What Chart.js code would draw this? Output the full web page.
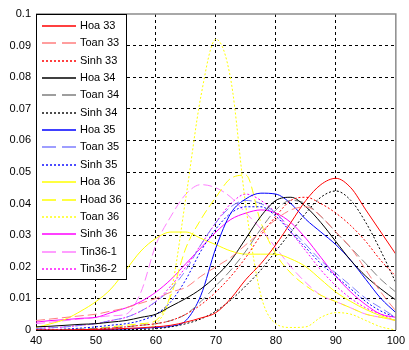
<!DOCTYPE html>
<html>
<head>
<meta charset="utf-8">
<script src="https://cdn.jsdelivr.net/npm/chart.js@4.4.1/dist/chart.umd.min.js"></script>
<style>
  html, body { margin: 0; padding: 0; background: #fff; }
  #chart { display: block; }
</style>
</head>
<body>
<canvas id="chart" width="409" height="350"></canvas>
<script>
// Score values (x) and estimated densities for each series
const X_VALUES = [40, 42.5, 45, 47.5, 50, 52.5, 55, 57.5, 60, 62.5, 65, 67.5, 70, 72.5, 75, 77.5, 80, 82.5, 85, 87.5, 90, 92.5, 95, 97.5, 100];

const HOA_33  = [0, 0, 0, 0.0001, 0.0002, 0.0003, 0.0005, 0.0007, 0.001, 0.0015, 0.0025, 0.0038, 0.0055, 0.01, 0.016, 0.021, 0.027, 0.034, 0.041, 0.046, 0.048, 0.045, 0.038, 0.031, 0.024];
const TOAN_33 = [0.003, 0.0035, 0.004, 0.0045, 0.005, 0.006, 0.007, 0.0085, 0.01, 0.012, 0.0135, 0.017, 0.02, 0.023, 0.027, 0.031, 0.035, 0.038, 0.039, 0.036, 0.031, 0.026, 0.019, 0.012, 0.006];
const SINH_33 = [0, 0, 0, 0, 0.0003, 0.0006, 0.001, 0.0015, 0.002, 0.003, 0.005, 0.008, 0.012, 0.017, 0.023, 0.03, 0.036, 0.041, 0.042, 0.04, 0.037, 0.033, 0.028, 0.022, 0.017];
const HOA_34  = [0.001, 0.0012, 0.0015, 0.0018, 0.002, 0.0025, 0.003, 0.004, 0.005, 0.0075, 0.01, 0.013, 0.017, 0.022, 0.029, 0.036, 0.041, 0.042, 0.039, 0.034, 0.028, 0.022, 0.017, 0.013, 0.0095];
const TOAN_34 = [0, 0.0001, 0.0002, 0.0003, 0.0005, 0.0007, 0.001, 0.0015, 0.002, 0.003, 0.005, 0.009, 0.014, 0.019, 0.025, 0.032, 0.038, 0.041, 0.04, 0.036, 0.031, 0.026, 0.021, 0.016, 0.012];
const SINH_34 = [0, 0, 0, 0, 0, 0, 0.0001, 0.0002, 0.0004, 0.001, 0.002, 0.0035, 0.006, 0.0095, 0.014, 0.019, 0.025, 0.031, 0.037, 0.042, 0.044, 0.041, 0.034, 0.025, 0.015];
const HOA_35  = [0, 0, 0, 0, 0.0001, 0.0002, 0.0003, 0.0005, 0.0008, 0.0012, 0.003, 0.011, 0.026, 0.037, 0.0415, 0.0433, 0.043, 0.04, 0.035, 0.031, 0.027, 0.022, 0.016, 0.01, 0.0055];
const TOAN_35 = [0.0005, 0.0007, 0.001, 0.0015, 0.002, 0.003, 0.004, 0.006, 0.009, 0.013, 0.019, 0.027, 0.034, 0.039, 0.041, 0.04, 0.037, 0.032, 0.027, 0.022, 0.018, 0.014, 0.01, 0.007, 0.004];
const SINH_35 = [0, 0.0001, 0.0003, 0.0006, 0.001, 0.0015, 0.002, 0.003, 0.005, 0.009, 0.016, 0.025, 0.032, 0.037, 0.039, 0.039, 0.036, 0.031, 0.026, 0.021, 0.017, 0.013, 0.009, 0.006, 0.004];
const HOA_36  = [0.0008, 0.002, 0.0035, 0.006, 0.009, 0.013, 0.019, 0.025, 0.029, 0.031, 0.031, 0.029, 0.027, 0.025, 0.024, 0.024, 0.024, 0.0225, 0.02, 0.016, 0.012, 0.009, 0.0065, 0.0045, 0.003];
const HOAD_36 = [0, 0, 0, 0.0002, 0.0005, 0.001, 0.0015, 0.002, 0.003, 0.011, 0.026, 0.035, 0.042, 0.048, 0.049, 0.034, 0.024, 0.018, 0.014, 0.011, 0.009, 0.007, 0.005, 0.004, 0.003];
const TOAN_36 = [0, 0, 0, 0, 0, 0, 0.0002, 0.0005, 0.002, 0.012, 0.042, 0.074, 0.092, 0.079, 0.039, 0.011, 0.002, 0.0008, 0.001, 0.004, 0.0055, 0.005, 0.003, 0.001, 0];
const SINH_36 = [0.0025, 0.003, 0.0033, 0.0037, 0.004, 0.0055, 0.007, 0.009, 0.012, 0.016, 0.021, 0.026, 0.031, 0.035, 0.037, 0.038, 0.037, 0.034, 0.029, 0.023, 0.017, 0.012, 0.008, 0.005, 0.004];
const TIN36_1 = [0.002, 0.0025, 0.003, 0.0035, 0.004, 0.0045, 0.005, 0.012, 0.027, 0.036, 0.043, 0.046, 0.045, 0.042, 0.037, 0.032, 0.026, 0.02, 0.015, 0.011, 0.009, 0.007, 0.005, 0.004, 0.003];
const TIN36_2 = [0.0005, 0.0007, 0.001, 0.0015, 0.002, 0.003, 0.004, 0.006, 0.009, 0.014, 0.02, 0.027, 0.034, 0.04, 0.043, 0.041, 0.037, 0.031, 0.025, 0.019, 0.014, 0.01, 0.007, 0.005, 0.003];

const SERIES_LABELS = ['Hoa 33', 'Toan 33', 'Sinh 33', 'Hoa 34', 'Toan 34', 'Sinh 34', 'Hoa 35', 'Toan 35', 'Sinh 35', 'Hoa 36', 'Hoad 36', 'Toan 36', 'Sinh 36', 'Tin36-1', 'Tin36-2'];
const SERIES_VALUES = [HOA_33, TOAN_33, SINH_33, HOA_34, TOAN_34, SINH_34, HOA_35, TOAN_35, SINH_35, HOA_36, HOAD_36, TOAN_36, SINH_36, TIN36_1, TIN36_2];

// line styles: colour + dash kind
const DASH = {
  solid: [],
  dashed: [9, 4],
  dotted: [2, 2],
};
const LEGEND_DASH = {
  solid: [],
  dashed: [14, 6],
  dotted: [2, 2],
};
const STYLES = [
  { color: '#ff0000', dash: 'solid' },
  { color: '#ff7f7f', dash: 'dashed' },
  { color: '#ff0000', dash: 'dotted' },
  { color: '#000000', dash: 'solid' },
  { color: '#7f7f7f', dash: 'dashed' },
  { color: '#000000', dash: 'dotted' },
  { color: '#0000ff', dash: 'solid' },
  { color: '#7f7fff', dash: 'dashed' },
  { color: '#0000ff', dash: 'dotted' },
  { color: '#ffff00', dash: 'solid' },
  { color: '#ffff00', dash: 'dashed' },
  { color: '#ffff00', dash: 'dotted' },
  { color: '#ff00ff', dash: 'solid' },
  { color: '#ff7fff', dash: 'dashed' },
  { color: '#ff00ff', dash: 'dotted' },
];

const FONT_FAMILY = '"Liberation Sans", Arial, sans-serif';

const datasets = SERIES_VALUES.map((values, i) => ({
  label: SERIES_LABELS[i],
  data: X_VALUES.map((x, j) => ({ x, y: values[j] })),
  borderColor: STYLES[i].color,
  borderDash: DASH[STYLES[i].dash],
  borderWidth: 1,
  pointRadius: 0,
  fill: false,
  cubicInterpolationMode: 'monotone',
}));

// MATLAB-like legend box inside the axes, drawn on top of the lines
const boxLegend = {
  id: 'boxLegend',
  afterDraw(chart) {
    const ctx = chart.ctx;
    const left = 36.5, top = 14.5, right = 126.5, bottom = 279.5;
    ctx.save();
    ctx.fillStyle = '#ffffff';
    ctx.fillRect(left, top, right - left, bottom - top);
    ctx.strokeStyle = '#000000';
    ctx.lineWidth = 1;
    ctx.setLineDash([]);
    ctx.strokeRect(left, top, right - left, bottom - top);
    ctx.font = '11px ' + FONT_FAMILY;
    ctx.textBaseline = 'middle';
    ctx.textAlign = 'left';
    SERIES_LABELS.forEach((label, i) => {
      const y = Math.round(25 + i * 17.35) + 1;
      const style = STYLES[i];
      ctx.strokeStyle = style.color;
      ctx.lineWidth = 1.4;
      ctx.setLineDash(LEGEND_DASH[style.dash]);
      ctx.beginPath();
      ctx.moveTo(42, y);
      ctx.lineTo(76, y);
      ctx.stroke();
      ctx.fillStyle = '#000000';
      ctx.fillText(label, 80, y);
    });
    ctx.restore();
  },
};

// top and right edges of the axes box
const axesFrame = {
  id: 'axesFrame',
  afterDraw(chart) {
    const { left, right, top, bottom } = chart.chartArea;
    const ctx = chart.ctx;
    ctx.save();
    ctx.strokeStyle = '#8c8c8c';
    ctx.lineWidth = 1.5;
    ctx.setLineDash([]);
    ctx.beginPath();
    ctx.moveTo(left, top);
    ctx.lineTo(right, top);
    ctx.lineTo(right, bottom);
    ctx.stroke();
    ctx.restore();
  },
};

const edgeless = (min, max) => (c) => {
  const v = c.tick ? c.tick.value : null;
  if (v === null) return '#000000';
  return (Math.abs(v - min) < 1e-9 || Math.abs(v - max) < 1e-9) ? 'rgba(0,0,0,0)' : '#000000';
};

new Chart(document.getElementById('chart').getContext('2d'), {
  type: 'line',
  data: { datasets },
  options: {
    responsive: false,
    animation: false,
    devicePixelRatio: 1,
    layout: { padding: { top: 14, right: 6, left: 0, bottom: 0 } },
    plugins: {
      legend: { display: false },
      tooltip: { enabled: false },
    },
    scales: {
      x: {
        type: 'linear',
        min: 40,
        max: 100,
        afterFit: (scale) => { scale.height = 20; },
        ticks: {
          stepSize: 10,
          color: '#000000',
          padding: 4,
          maxRotation: 0,
          font: { family: FONT_FAMILY, size: 11 },
        },
        grid: {
          color: edgeless(40, 100),
          lineWidth: 1,
          drawTicks: false,
        },
        border: { display: true, color: '#000000', width: 1, dash: [3, 3] },
      },
      y: {
        type: 'linear',
        min: 0,
        max: 0.1,
        afterFit: (scale) => { scale.width = 36; },
        ticks: {
          stepSize: 0.01,
          color: '#000000',
          padding: 5,
          font: { family: FONT_FAMILY, size: 11 },
          callback: (v) => String(Number(v.toFixed(2))),
        },
        grid: {
          color: edgeless(0, 0.1),
          lineWidth: 1,
          drawTicks: false,
        },
        border: { display: true, color: '#000000', width: 1, dash: [3, 3] },
      },
    },
  },
  plugins: [axesFrame, boxLegend],
});
</script>
</body>
</html>
